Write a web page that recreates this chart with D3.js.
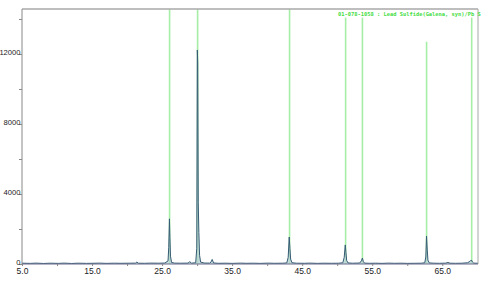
<!DOCTYPE html>
<html>
<head>
<meta charset="utf-8">
<script src="https://cdn.jsdelivr.net/npm/d3@7"></script>
<style>
  body { margin: 0; background: #fff; }
  svg { display: block; }
</style>
</head>
<body>
<div id="chart"></div>
<script>
// measured pattern (2theta, counts)
const twoTheta = [5.0, 6.2, 7.0, 8.1, 9.0, 10.2, 11.0, 12.1, 13.0, 14.2, 15.0, 16.1, 17.0, 18.2, 19.0, 20.3,
  21.2, 21.4, 21.6, 22.5, 23.4, 24.5, 25.4, 25.85, 25.95, 26.05, 26.12, 26.2, 26.35, 26.8, 27.6, 28.7, 28.95, 29.2,
  29.8, 29.95, 30.03, 30.09, 30.16, 30.25, 30.35, 30.5, 31.0, 31.8, 32.0, 32.15, 32.35, 33.0, 34.1, 35.0, 36.2,
  37.0, 38.1, 39.0, 40.2, 41.0, 42.2, 42.8, 43.0, 43.15, 43.25, 43.35, 43.55, 44.2, 45.3, 46.1, 47.2, 48.0,
  49.2, 50.2, 50.8, 51.0, 51.15, 51.25, 51.35, 51.55, 52.2, 53.2, 53.45, 53.6, 53.72, 53.9, 54.6, 55.5, 56.4,
  57.3, 58.2, 59.1, 60.0, 61.0, 62.0, 62.5, 62.65, 62.75, 62.85, 62.95, 63.15, 63.8, 64.6, 65.5, 65.8, 66.1,
  66.9, 67.8, 68.6, 68.95, 69.15, 69.3, 69.5, 70.1];
const counts = [45, 35, 50, 30, 45, 35, 50, 30, 45, 35, 40, 50, 35, 45, 40, 45,
  50, 110, 45, 40, 50, 45, 55, 180, 950, 2580, 1500, 450, 90, 50, 45, 50, 130, 50,
  70, 900, 12230, 11500, 3500, 1800, 500, 110, 55, 50, 120, 260, 60, 40, 45, 35, 50,
  40, 45, 35, 50, 40, 45, 60, 380, 1540, 900, 280, 70, 45, 40, 50, 35, 45,
  40, 45, 70, 380, 1090, 650, 200, 60, 45, 55, 180, 340, 150, 50, 40, 45, 35,
  50, 40, 45, 35, 40, 45, 70, 400, 1600, 850, 220, 60, 45, 40, 50, 90, 45,
  40, 45, 70, 150, 230, 120, 50, 40];

// reference card PDF 01-078-1058 (PbS)
const refTitle = "01-078-1058 : Lead Sulfide(Galena, syn)/Pb S";
const refPos = [26.07, 30.07, 43.2, 51.2, 53.6, 62.76, 69.2];
const refTop = [14600, 14600, 14600, 14080, 14080, 12700, 14080];

const xTicks = [5, 15, 25, 35, 45, 55, 65];
const yTicks = [0, 4000, 8000, 12000];

const width = 482, height = 283;
const margin = {top: 9, right: 4, bottom: 19, left: 22};

const svg = d3.select("#chart")
  .append("svg")
  .attr("width", width)
  .attr("height", height);

const x = d3.scaleLinear().domain([5, 70.1]).range([margin.left, width - margin.right]);
const y = d3.scaleLinear().domain([0, 14570]).range([height - margin.bottom, margin.top]);

// reference lines
svg.append("g")
  .selectAll("line")
  .data(refPos)
  .join("line")
    .attr("x1", d => x(d)).attr("x2", d => x(d))
    .attr("y1", (d, i) => y(Math.min(refTop[i], 14570)))
    .attr("y2", y(0))
    .attr("stroke", "#a6eea6")
    .attr("stroke-width", 1.6);

const pts = twoTheta.map((t, i) => [t, counts[i]]);

const area = d3.area()
  .x(d => x(d[0]))
  .y0(y(0))
  .y1(d => y(d[1]));

const line = d3.line()
  .x(d => x(d[0]))
  .y(d => y(d[1]));

svg.append("path")
  .datum(pts)
  .attr("d", area)
  .attr("fill", "#b9d3d3")
  .attr("fill-opacity", 0.8);

svg.append("path")
  .datum(pts)
  .attr("d", line)
  .attr("fill", "none")
  .attr("stroke", "#355c74")
  .attr("stroke-width", 1);

// frame: top + right grey lines
svg.append("line")
  .attr("x1", margin.left).attr("x2", width - margin.right)
  .attr("y1", margin.top).attr("y2", margin.top)
  .attr("stroke", "#a8a8a8").attr("stroke-width", 1.5);
svg.append("line")
  .attr("x1", width - margin.right).attr("x2", width - margin.right)
  .attr("y1", margin.top).attr("y2", y(0))
  .attr("stroke", "#a8a8a8").attr("stroke-width", 1);

// y axis
const yAxis = svg.append("g")
  .attr("transform", `translate(${margin.left},0)`)
  .call(d3.axisLeft(y).tickValues(d3.range(0, 14001, 2000)).tickSize(3).tickFormat(d => yTicks.includes(d) ? d : ""));
yAxis.select(".domain").attr("stroke", "#888").attr("d", `M0,${margin.top}V${y(0)}`);
yAxis.selectAll(".tick line").attr("stroke", "#888");
yAxis.selectAll(".tick text")
  .attr("x", -1.5).attr("dy", "0.1em")
  .attr("font-family", "Arial, 'Liberation Sans', sans-serif")
  .attr("font-size", 7.6).attr("fill", "#222");

// x axis
const xAxis = svg.append("g")
  .attr("transform", `translate(0,${y(0)})`)
  .call(d3.axisBottom(x).tickValues(d3.range(5, 70, 5)).tickSize(2).tickFormat(d => xTicks.includes(d) ? d.toFixed(1) : ""));
xAxis.select(".domain").attr("stroke", "#6a6a8a").attr("d", `M${margin.left},0H${width - margin.right}`);
xAxis.selectAll(".tick line").attr("stroke", "#888");
xAxis.selectAll(".tick text")
  .attr("y", 4)
  .attr("font-family", "Arial, 'Liberation Sans', sans-serif")
  .attr("font-size", 8.5).attr("fill", "#222");

// reference card label
svg.append("text")
  .attr("x", 338).attr("y", 16)
  .attr("font-family", "'DejaVu Sans Mono', monospace")
  .attr("font-size", 5.4)
  .attr("font-weight", "bold")
  .attr("fill", "#44dd44")
  .text(refTitle);
</script>
</body>
</html>
